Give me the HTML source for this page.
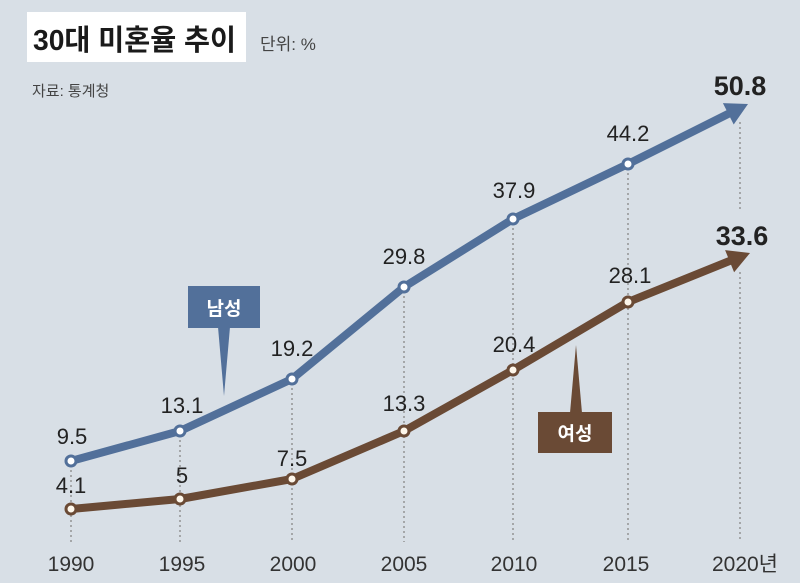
<!DOCTYPE html>
<html><head><meta charset="utf-8"><style>
html,body{margin:0;padding:0;background:#d8dfe6;}
svg{display:block;}
text{font-family:"Liberation Sans","Noto Sans CJK KR",sans-serif;}
</style></head><body>
<svg width="800" height="583" viewBox="0 0 800 583" xmlns="http://www.w3.org/2000/svg">
<rect width="800" height="583" fill="#d8dfe6"/>
<rect x="27" y="12" width="219" height="50" fill="#fff"/>
<text x="33" y="50" font-size="29" font-weight="bold" fill="#1a1a1a" textLength="203" lengthAdjust="spacingAndGlyphs">30대 미혼율 추이</text>
<text x="260" y="50" font-size="17" fill="#444">단위: %</text>
<text x="32" y="96" font-size="15" fill="#444">자료: 통계청</text>
<g stroke="#888" stroke-width="1.3" stroke-dasharray="2,3">
<line x1="71" y1="470" x2="71" y2="542"/>
<line x1="180" y1="440" x2="180" y2="542"/>
<line x1="292" y1="388" x2="292" y2="542"/>
<line x1="404" y1="296" x2="404" y2="542"/>
<line x1="513" y1="228" x2="513" y2="542"/>
<line x1="628" y1="173" x2="628" y2="542"/>
<line x1="740" y1="122" x2="740" y2="212"/>
<line x1="740" y1="272" x2="740" y2="542"/>
</g>
<polyline points="71,461 180,431 292,379 404,287 513,219 628,164 730,113" fill="none" stroke="#52709a" stroke-width="8" stroke-linejoin="round"/>
<polygon points="748,104 733.7,124.5 722.9,103.1" fill="#52709a"/>
<polyline points="71,509 180,499 292,479 404,431 513,370 628,302 732,260" fill="none" stroke="#6a4a35" stroke-width="8" stroke-linejoin="round"/>
<polygon points="750,253 734.1,272.3 725.1,250.1" fill="#6a4a35"/>
<g fill="#fff" stroke-width="3">
<g stroke="#52709a"><circle cx="71" cy="461" r="5"/><circle cx="180" cy="431" r="5"/><circle cx="292" cy="379" r="5"/><circle cx="404" cy="287" r="5"/><circle cx="513" cy="219" r="5"/><circle cx="628" cy="164" r="5"/></g>
<g stroke="#6a4a35" fill="#fdf6ea"><circle cx="71" cy="509" r="5"/><circle cx="180" cy="499" r="5"/><circle cx="292" cy="479" r="5"/><circle cx="404" cy="431" r="5"/><circle cx="513" cy="370" r="5"/><circle cx="628" cy="302" r="5"/></g>
</g>
<g font-size="22" fill="#222" text-anchor="middle">
<text x="72" y="444">9.5</text><text x="182" y="413">13.1</text><text x="292" y="356">19.2</text><text x="404" y="264">29.8</text><text x="514" y="198">37.9</text><text x="628" y="141">44.2</text>
<text x="71" y="493">4.1</text><text x="182" y="483">5</text><text x="292" y="466">7.5</text><text x="404" y="411">13.3</text><text x="514" y="352">20.4</text><text x="630" y="283">28.1</text>
<text x="740" y="95" font-size="27" font-weight="bold">50.8</text>
<text x="742" y="245" font-size="27" font-weight="bold">33.6</text>
</g>
<g font-size="21" fill="#333" text-anchor="middle">
<text x="71" y="571">1990</text><text x="182" y="571">1995</text><text x="293" y="571">2000</text><text x="404" y="571">2005</text><text x="514" y="571">2010</text><text x="626" y="571">2015</text><text x="745" y="571">2020년</text>
</g>
<rect x="188" y="286" width="72" height="42" fill="#52709a"/>
<polygon points="218,327 230,327 224,396" fill="#52709a"/>
<text x="224" y="315" font-size="19" font-weight="bold" fill="#fff" text-anchor="middle">남성</text>
<polygon points="570,413 582,413 576,345" fill="#6a4a35"/>
<rect x="538" y="412" width="74" height="41" fill="#6a4a35"/>
<text x="575" y="440" font-size="19" font-weight="bold" fill="#fff" text-anchor="middle">여성</text>
</svg>
</body></html>
